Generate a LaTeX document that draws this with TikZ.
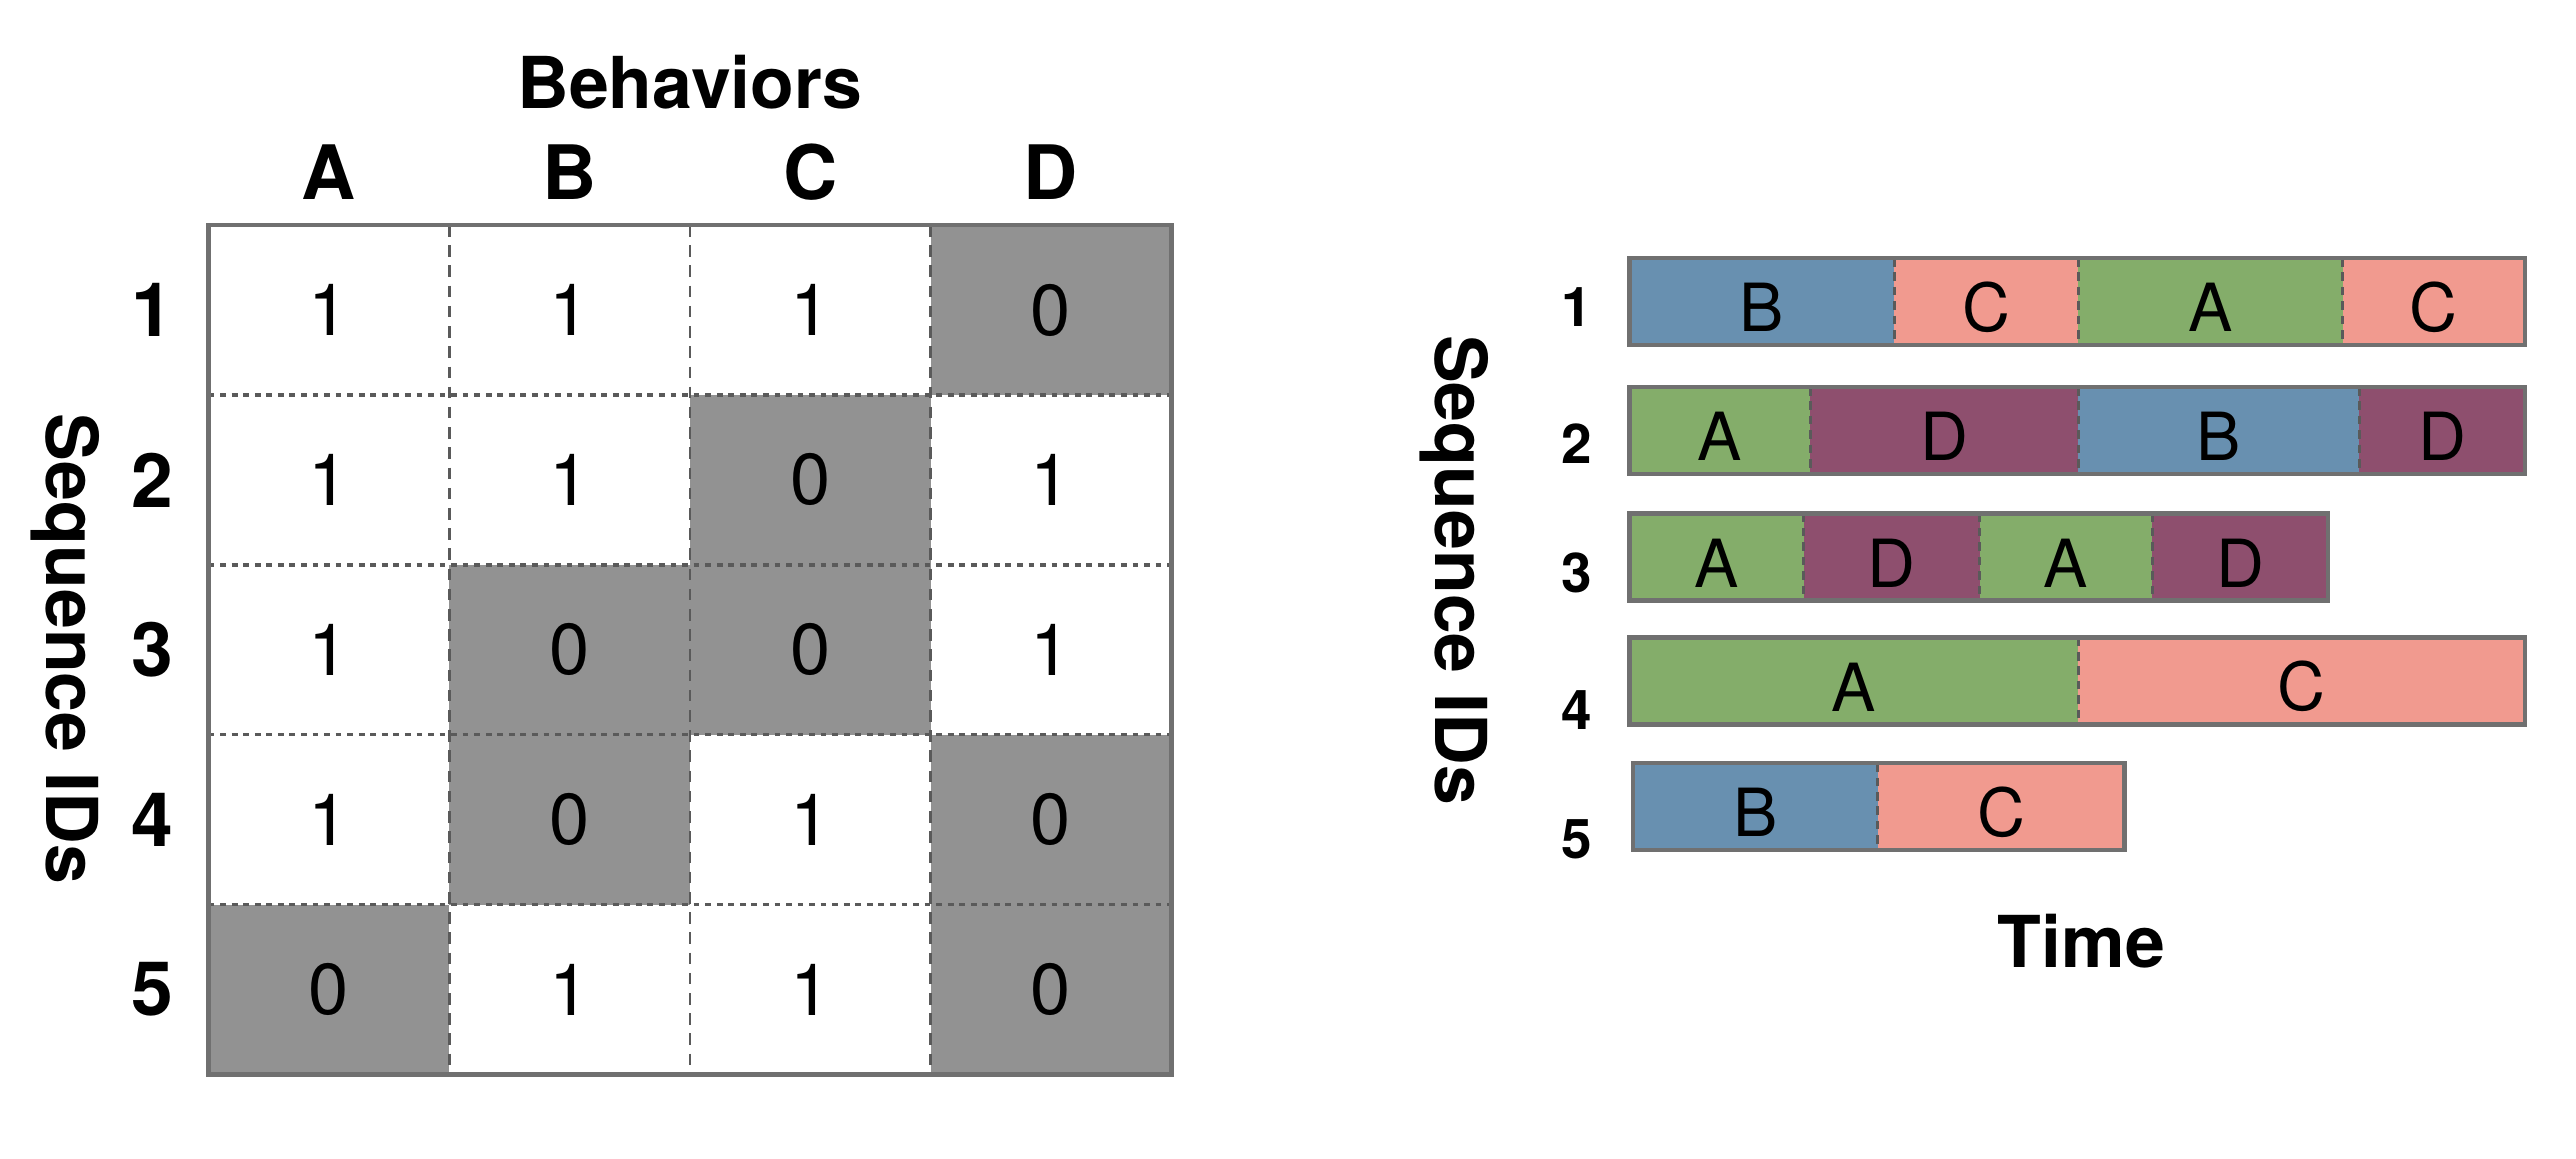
\documentclass[tikz,border=0pt]{standalone}
\usepackage{fontspec}
\setmainfont{TeX Gyre Heros}
\usetikzlibrary{positioning}
\definecolor{cellgray}{HTML}{929292}
\definecolor{framec}{HTML}{707070}
\definecolor{dashc}{HTML}{5A5A5A}
\definecolor{behA}{HTML}{84AD6A}
\definecolor{behB}{HTML}{6890B0}
\definecolor{behC}{HTML}{F19A8F}
\definecolor{behD}{HTML}{8E4F6E}

\begin{document}
\begin{tikzpicture}[
  cell/.style={minimum width=14.65mm, minimum height=10.34mm, inner sep=0pt, outer sep=0pt,
     font=\fontsize{12.5}{14}\selectfont},
  zero/.style={cell, fill=cellgray},
  head/.style={font=\bfseries\fontsize{13}{15}\selectfont, inner sep=0pt},
  title/.style={font=\bfseries\fontsize{12.4}{15}\selectfont, inner sep=0pt},
  sid/.style={font=\bfseries\fontsize{9.5}{11}\selectfont, inner sep=0pt},
  seg/.style={minimum height=5.3mm, inner sep=0pt, outer sep=0pt,
     font=\fontsize{11.5}{13}\selectfont, text height=1.05em},
  gridv/.style={draw=dashc, line width=0.5pt, dash pattern=on 2pt off 1.5pt},
  gridh/.style={draw=dashc, line width=0.6pt, dash pattern=on 1pt off 1pt},
  frame/.style={draw=framec, line width=0.8pt},
  sep/.style={draw=dashc, line width=0.5pt, dash pattern=on 1.5pt off 1pt},
]
\useasboundingbox (0,0) rectangle (15.68,7.05);
% --- matrix columns / rows ---
\def\xA{2.0025} \def\xB{3.4675} \def\xC{4.9325} \def\xD{6.3975}
\def\yI{5.163} \def\yII{4.129} \def\yIII{3.095} \def\yIV{2.061} \def\yV{1.027}
% cells
\node[cell] (r1a) at (\xA,\yI) {1};
\node[cell] (r1b) at (\xB,\yI) {1};
\node[cell] (r1c) at (\xC,\yI) {1};
\node[zero] (r1d) at (\xD,\yI) {0};
\node[cell] (r2a) at (\xA,\yII) {1};
\node[cell] (r2b) at (\xB,\yII) {1};
\node[zero] (r2c) at (\xC,\yII) {0};
\node[cell] (r2d) at (\xD,\yII) {1};
\node[cell] (r3a) at (\xA,\yIII) {1};
\node[zero] (r3b) at (\xB,\yIII) {0};
\node[zero] (r3c) at (\xC,\yIII) {0};
\node[cell] (r3d) at (\xD,\yIII) {1};
\node[cell] (r4a) at (\xA,\yIV) {1};
\node[zero] (r4b) at (\xB,\yIV) {0};
\node[cell] (r4c) at (\xC,\yIV) {1};
\node[zero] (r4d) at (\xD,\yIV) {0};
\node[zero] (r5a) at (\xA,\yV) {0};
\node[cell] (r5b) at (\xB,\yV) {1};
\node[cell] (r5c) at (\xC,\yV) {1};
\node[zero] (r5d) at (\xD,\yV) {0};
% grid lines
\draw[gridv] (r1a.north east) -- (r5a.south east);
\draw[gridv] (r1b.north east) -- (r5b.south east);
\draw[gridv] (r1c.north east) -- (r5c.south east);
\draw[gridh] (r1a.south west) -- (r1d.south east);
\draw[gridh] (r2a.south west) -- (r2d.south east);
\draw[gridh] (r3a.south west) -- (r3d.south east);
\draw[gridh] (r4a.south west) -- (r4d.south east);
\draw[frame] (r1a.north west) rectangle (r5d.south east);
% headers
\node[title] (beh) at (4.20,6.55) {Behaviors};
\node[head] (hA) at (\xA,6.00) {A};
\node[head] (hB) at (\xB,6.00) {B};
\node[head] (hC) at (\xC,6.00) {C};
\node[head] (hD) at (\xD,6.00) {D};
\node[head] (n1) at (0.93,\yI) {1};
\node[head] (n2) at (0.93,\yII) {2};
\node[head] (n3) at (0.93,\yIII) {3};
\node[head] (n4) at (0.93,\yIV) {4};
\node[head] (n5) at (0.93,\yV) {5};
\node[title, rotate=-90] (seqL) at (0.40,3.10) {Sequence IDs};

% --- timelines ---
\def\xs{9.92}
% row 1
\node[seg, fill=behB, minimum width=16.1mm, anchor=west] (t1a) at (\xs,5.215) {B};
\node[seg, fill=behC, minimum width=11.2mm, right=0pt of t1a] (t1b) {C};
\node[seg, fill=behA, minimum width=16.1mm, right=0pt of t1b] (t1c) {A};
\node[seg, fill=behC, minimum width=11.1mm, right=0pt of t1c] (t1d) {C};
% row 2
\node[seg, fill=behA, minimum width=11.0mm, anchor=west] (t2a) at (\xs,4.43) {A};
\node[seg, fill=behD, minimum width=16.3mm, right=0pt of t2a] (t2b) {D};
\node[seg, fill=behB, minimum width=17.1mm, right=0pt of t2b] (t2c) {B};
\node[seg, fill=behD, minimum width=10.1mm, right=0pt of t2c] (t2d) {D};
% row 3
\node[seg, fill=behA, minimum width=10.6mm, anchor=west] (t3a) at (\xs,3.66) {A};
\node[seg, fill=behD, minimum width=10.7mm, right=0pt of t3a] (t3b) {D};
\node[seg, fill=behA, minimum width=10.5mm, right=0pt of t3b] (t3c) {A};
\node[seg, fill=behD, minimum width=10.7mm, right=0pt of t3c] (t3d) {D};
% row 4
\node[seg, fill=behA, minimum width=27.3mm, anchor=west] (t4a) at (\xs,2.905) {A};
\node[seg, fill=behC, minimum width=27.2mm, right=0pt of t4a] (t4b) {C};
% row 5
\node[seg, fill=behB, minimum width=14.9mm, anchor=west] (t5a) at (9.94,2.14) {B};
\node[seg, fill=behC, minimum width=15.0mm, right=0pt of t5a] (t5b) {C};
% separators and outlines
\draw[sep] (t1a.north east) -- (t1a.south east);
\draw[sep] (t1b.north east) -- (t1b.south east);
\draw[sep] (t1c.north east) -- (t1c.south east);
\draw[sep] (t2a.north east) -- (t2a.south east);
\draw[sep] (t2b.north east) -- (t2b.south east);
\draw[sep] (t2c.north east) -- (t2c.south east);
\draw[sep] (t3a.north east) -- (t3a.south east);
\draw[sep] (t3b.north east) -- (t3b.south east);
\draw[sep] (t3c.north east) -- (t3c.south east);
\draw[sep] (t4a.north east) -- (t4a.south east);
\draw[sep] (t5a.north east) -- (t5a.south east);
\draw[frame] (t1a.north west) rectangle (t1d.south east);
\draw[frame] (t2a.north west) rectangle (t2d.south east);
\draw[frame] (t3a.north west) rectangle (t3d.south east);
\draw[frame] (t4a.north west) rectangle (t4b.south east);
\draw[frame] (t5a.north west) rectangle (t5b.south east);
% labels
\node[sid] (m1) at (9.60,5.18) {1};
\node[sid] (m2) at (9.60,4.35) {2};
\node[sid] (m3) at (9.60,3.56) {3};
\node[sid] (m4) at (9.60,2.73) {4};
\node[sid] (m5) at (9.60,1.94) {5};
\node[title, rotate=-90] (seqR) at (8.85,3.58) {Sequence IDs};
\node[title] (time) at (12.67,1.32) {Time};
\end{tikzpicture}
\end{document}
